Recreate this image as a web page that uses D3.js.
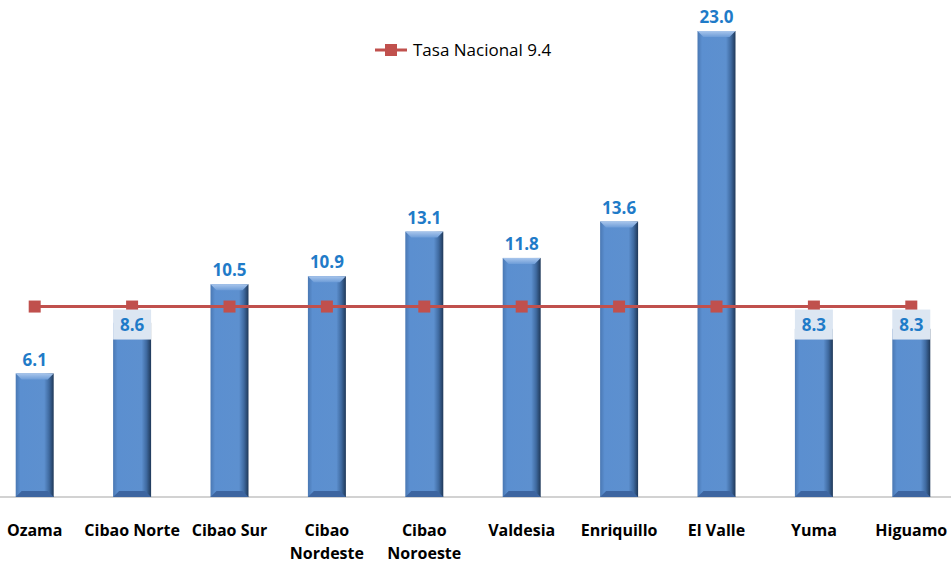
<!DOCTYPE html>
<html>
<head>
<meta charset="utf-8">
<script src="https://cdn.jsdelivr.net/npm/d3@7"></script>
<style>
  body { margin: 0; background: #fff; }
  svg { display: block; font-family: "Open Sans", "Noto Sans", sans-serif; }
</style>
</head>
<body>
<div id="chart"></div>
<script>
// data
var regions = ["Ozama", "Cibao Norte", "Cibao Sur", "Cibao Nordeste", "Cibao Noroeste",
               "Valdesia", "Enriquillo", "El Valle", "Yuma", "Higuamo"];
var tasas = [6.1, 8.6, 10.5, 10.9, 13.1, 11.8, 13.6, 23.0, 8.3, 8.3];
var tasaNacional = 9.4;
var legendLabel = "Tasa Nacional 9.4";

var width = 951, height = 564;

var svg = d3.select("#chart")
  .append("svg")
    .attr("width", width)
    .attr("height", height);

// scales
var x = d3.scaleBand()
    .domain(regions)
    .range([-14, 960])
    .paddingInner(0.61)
    .paddingOuter(0.305);

var y = d3.scaleLinear()
    .domain([0, 23])
    .range([497, 31]);

// gradients for the bevelled bars
var defs = svg.append("defs");
var g1 = defs.append("linearGradient").attr("id", "barGrad")
    .attr("x1", "0%").attr("x2", "100%").attr("y1", "0%").attr("y2", "0%");
g1.append("stop").attr("offset", "0%").attr("stop-color", "#4a78b3");
g1.append("stop").attr("offset", "12%").attr("stop-color", "#5b8fd0");
g1.append("stop").attr("offset", "75%").attr("stop-color", "#5d90cf");
g1.append("stop").attr("offset", "88%").attr("stop-color", "#3f6aa0");
g1.append("stop").attr("offset", "100%").attr("stop-color", "#1f3858");

var g2 = defs.append("linearGradient").attr("id", "topGrad")
    .attr("x1", "0%").attr("x2", "0%").attr("y1", "0%").attr("y2", "100%");
g2.append("stop").attr("offset", "0%").attr("stop-color", "#a9c6ec");
g2.append("stop").attr("offset", "100%").attr("stop-color", "#6e9dd8");

// axis baseline
svg.append("line")
  .attr("x1", 0).attr("x2", width)
  .attr("y1", y(0)).attr("y2", y(0))
  .attr("stroke", "#a6a6a6").attr("stroke-width", 1.2);

// bars
var bw = x.bandwidth();
var bev = 6;
var bars = svg.append("g").selectAll("g")
  .data(regions)
  .enter().append("g");

bars.append("rect")
  .attr("x", function(d) { return x(d); })
  .attr("y", function(d, i) { return y(tasas[i]); })
  .attr("width", bw)
  .attr("height", function(d, i) { return y(0) - y(tasas[i]); })
  .attr("fill", "url(#barGrad)");

// top bevel
bars.append("path")
  .attr("d", function(d, i) {
    var x0 = x(d), x1 = x0 + bw, t = y(tasas[i]);
    return "M" + x0 + "," + t + "L" + x1 + "," + t + "L" + (x1 - bev) + "," + (t + bev) +
           "L" + (x0 + bev) + "," + (t + bev) + "Z";
  })
  .attr("fill", "url(#topGrad)");

// bottom bevel
bars.append("path")
  .attr("d", function(d) {
    var x0 = x(d), x1 = x0 + bw, b = y(0);
    return "M" + x0 + "," + b + "L" + x1 + "," + b + "L" + (x1 - bev) + "," + (b - bev) +
           "L" + (x0 + bev) + "," + (b - bev) + "Z";
  })
  .attr("fill", "#3d65a0");

// national rate line
var cx = function(d) { return x(d) + bw / 2; };
var line = d3.line()
  .x(function(d) { return cx(d); })
  .y(function() { return y(tasaNacional); });

svg.append("path")
  .datum(regions)
  .attr("d", line)
  .attr("fill", "none")
  .attr("stroke", "#c0504d")
  .attr("stroke-width", 3);

svg.append("g").selectAll("rect")
  .data(regions)
  .enter().append("rect")
  .attr("x", function(d) { return cx(d) - 6; })
  .attr("y", y(tasaNacional) - 6)
  .attr("width", 12)
  .attr("height", 12)
  .attr("fill", "#c0504d");

// value labels
var lineY = y(tasaNacional);
var clash = function(i) { return Math.abs(y(tasas[i]) - 14 - lineY) < 16; };
var labels = svg.append("g").selectAll("g")
  .data(regions)
  .enter().append("g")
  .attr("transform", function(d, i) {
    var ly = clash(i) ? lineY + 18 : y(tasas[i]) - 14;
    return "translate(" + cx(d) + "," + ly + ")";
  });

labels.filter(function(d, i) { return clash(i); })
  .append("rect")
  .attr("x", -19).attr("y", -15)
  .attr("width", 38).attr("height", 30)
  .attr("fill", "#dce6f2");

labels.append("text")
  .attr("text-anchor", "middle")
  .attr("dy", "0.36em")
  .attr("font-size", 17)
  .attr("font-weight", "bold")
  .attr("fill", "#1f7bc8")
  .text(function(d, i) { return tasas[i].toFixed(1); });

// category labels
var cat = svg.append("g").selectAll("text")
  .data(regions)
  .enter().append("text")
  .attr("text-anchor", "middle")
  .attr("font-size", 16)
  .attr("font-weight", "bold")
  .attr("fill", "#000")
  .attr("x", function(d) { return cx(d); })
  .attr("y", 536);

cat.each(function(d) {
  var el = d3.select(this);
  var lines = (d === "Cibao Nordeste" || d === "Cibao Noroeste") ? d.split(" ") : [d];
  lines.forEach(function(w, k) {
    el.append("tspan")
      .attr("x", cx(d))
      .attr("dy", k === 0 ? 0 : 23)
      .text(w);
  });
});

// legend
var legend = svg.append("g")
  .attr("transform", "translate(375,50)");
legend.append("line")
  .attr("x1", 0).attr("x2", 32)
  .attr("y1", 0).attr("y2", 0)
  .attr("stroke", "#c0504d").attr("stroke-width", 3);
legend.append("rect")
  .attr("x", 10).attr("y", -6)
  .attr("width", 12).attr("height", 12)
  .attr("fill", "#c0504d");
legend.append("text")
  .attr("x", 38)
  .attr("dy", "0.35em")
  .attr("font-size", 17)
  .attr("fill", "#000")
  .text(legendLabel);
</script>
</body>
</html>
